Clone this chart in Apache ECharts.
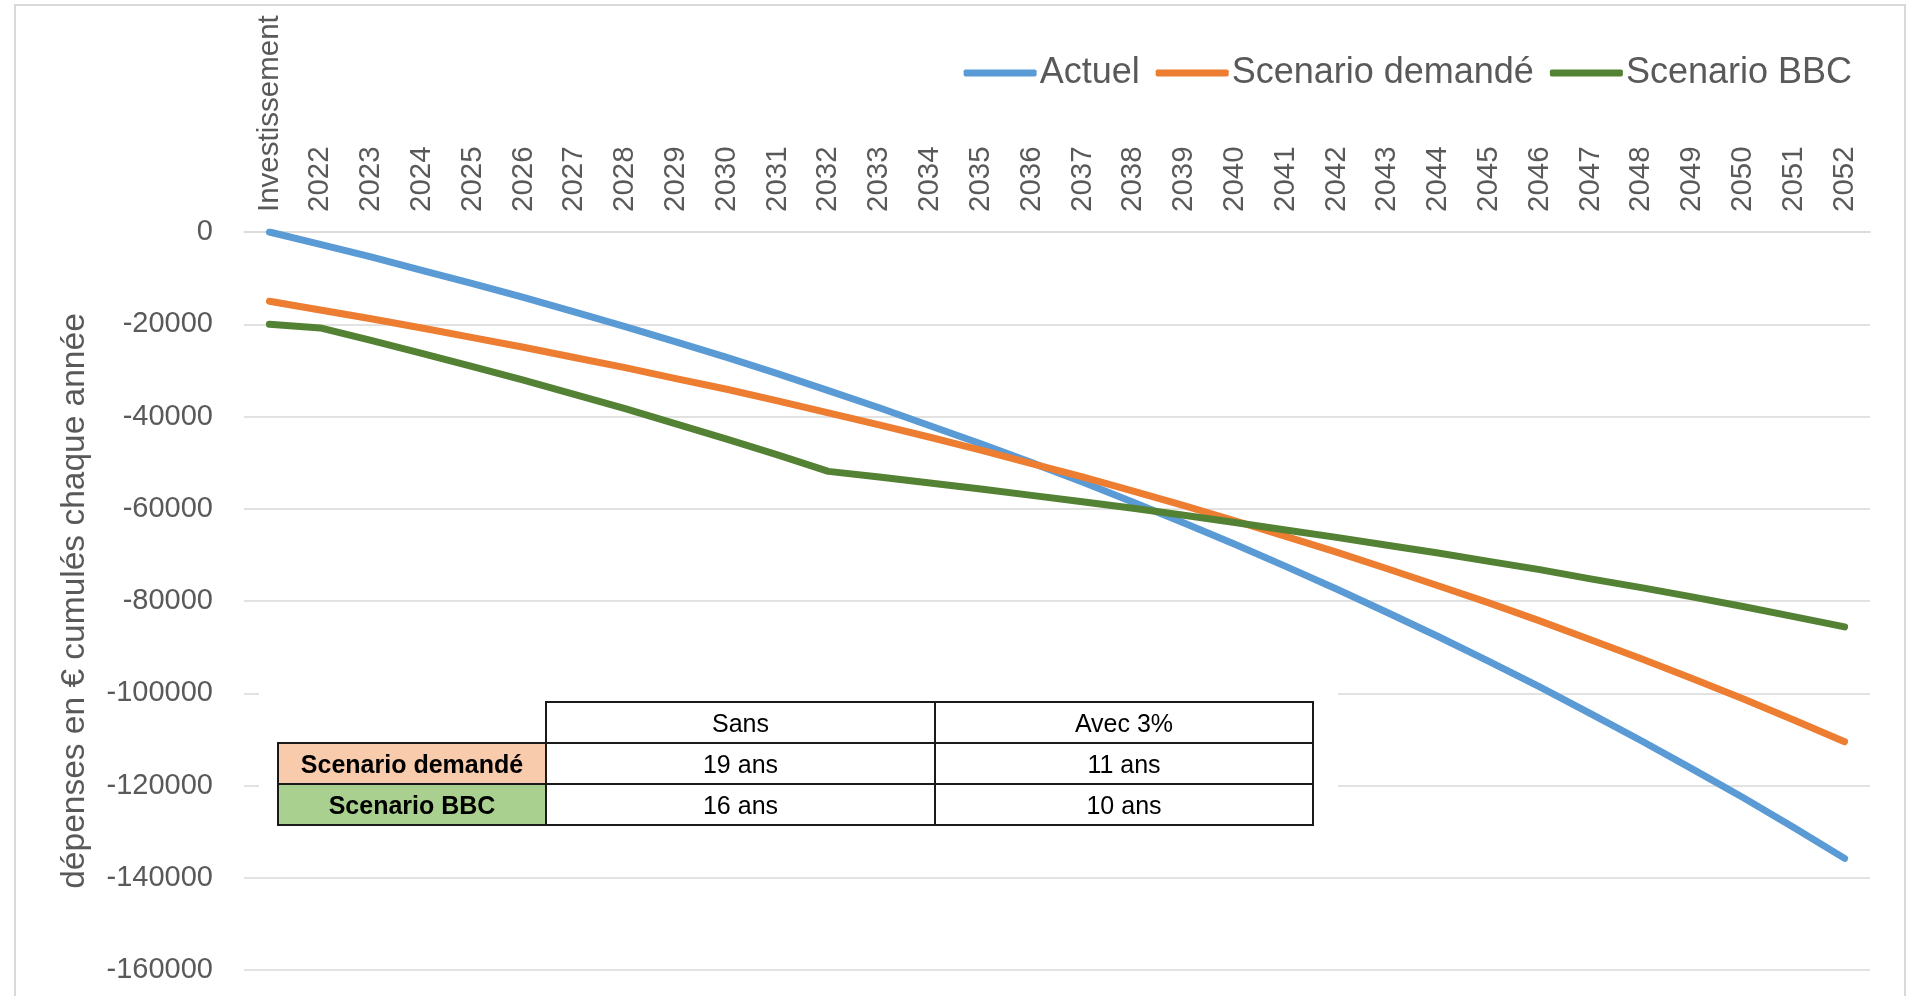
<!DOCTYPE html>
<html>
<head>
<meta charset="utf-8">
<script src="https://cdn.jsdelivr.net/npm/echarts@6/dist/echarts.min.js"></script>
<style>
html,body{margin:0;padding:0;background:#fff;}
#chart{width:1910px;height:996px;}
</style>
</head>
<body>
<div id="chart"></div>
<script>
// ---- Data ----
const categories = ['Investissement','2022','2023','2024','2025','2026','2027','2028','2029','2030','2031','2032','2033','2034','2035','2036','2037','2038','2039','2040','2041','2042','2043','2044','2045','2046','2047','2048','2049','2050','2051','2052'];
const seriesNames = ['Actuel', 'Scenario demandé', 'Scenario BBC'];
const actuel = [0,-2700,-5400,-8300,-11200,-14200,-17300,-20500,-23800,-27200,-30700,-34400,-38100,-42000,-45900,-50000,-54200,-58600,-63100,-67700,-72500,-77400,-82500,-87700,-93100,-98600,-104400,-110300,-116400,-122600,-129100,-135800];
const demande = [-15000,-16900,-18800,-20800,-22900,-25000,-27200,-29400,-31800,-34100,-36600,-39200,-41800,-44500,-47300,-50200,-53100,-56200,-59300,-62600,-66000,-69400,-73000,-76700,-80400,-84300,-88400,-92500,-96800,-101200,-105800,-110500];
const bbc = [-20000,-20800,-23500,-26300,-29200,-32100,-35200,-38300,-41600,-44900,-48300,-51900,-53100,-54400,-55700,-57100,-58500,-59900,-61400,-63000,-64600,-66200,-67900,-69600,-71400,-73200,-75200,-77100,-79100,-81200,-83400,-85600];
const yAxisTitle = 'dépenses en € cumulés chaque année';
const tableCols = ['Sans', 'Avec 3%'];
const tableRows = ['Scenario demandé', 'Scenario BBC'];
const tableValues = [['19 ans', '11 ans'], ['16 ans', '10 ans']];

// ---- Styles / layout ----
const colors = ['#5b9bd5', '#ed7d31', '#548235'];
const rowFills = ['#f8cbad', '#a9d08e'];
const FONT = "'Liberation Sans', Arial, sans-serif";
const colX = [278, 546, 935, 1313];
const rowY = [702, 743, 784, 825];

const graphics = [];
graphics.push({type:'rect', z:0, shape:{x:15, y:5, width:1890, height:1000}, style:{fill:'none', stroke:'#d9d9d9', lineWidth:2}});
graphics.push({type:'rect', z:50, shape:{x:259, y:685, width:1079, height:160}, style:{fill:'#ffffff'}});
function cell(x0, x1, y0, y1, fill, text, bold) {
  graphics.push({type:'rect', z:51, shape:{x:x0, y:y0, width:x1-x0, height:y1-y0}, style:{fill:fill, stroke:'#1a1a1a', lineWidth:2}});
  graphics.push({type:'text', z:52, x:(x0+x1)/2, y:(y0+y1)/2 + 3, style:{text:text, fill:'#000', font:(bold?'bold ':'') + '25px ' + FONT, align:'center', verticalAlign:'middle'}});
}
tableCols.forEach((c, j) => cell(colX[j+1], colX[j+2], rowY[0], rowY[1], '#ffffff', c, false));
tableRows.forEach((r, i) => {
  cell(colX[0], colX[1], rowY[i+1], rowY[i+2], rowFills[i], r, true);
  tableValues[i].forEach((v, j) => cell(colX[j+1], colX[j+2], rowY[i+1], rowY[i+2], '#ffffff', v, false));
});

const chart = echarts.init(document.getElementById('chart'));
const dataSets = [actuel, demande, bbc];
chart.setOption({
  animation: false,
  textStyle: {fontFamily: FONT},
  color: colors,
  grid: {left: 244, right: 40, top: 232, bottom: 26, containLabel: false},
  legend: {
    right: 53, top: 50,
    itemWidth: 73, itemHeight: 7, itemGap: 16,
    icon: 'roundRect',
    textStyle: {fontSize: 36, color: '#595959', lineHeight: 36, padding: [0,0,0,-2]},
    data: seriesNames
  },
  xAxis: {
    type: 'category',
    position: 'top',
    data: categories,
    boundaryGap: true,
    axisLine: {show: true, lineStyle: {color: '#d9d9d9', width: 1.5}},
    axisTick: {show: false},
    axisLabel: {rotate: 90, interval: 0, margin: 20, fontSize: 29.5, color: '#595959'},
    splitLine: {show: false}
  },
  yAxis: {
    type: 'value',
    min: -160000, max: 0, interval: 20000,
    name: yAxisTitle,
    nameLocation: 'middle',
    nameRotate: 90,
    nameGap: 152,
    nameTextStyle: {fontSize: 33.5, color: '#595959'},
    axisLine: {show: false},
    axisTick: {show: false},
    axisLabel: {fontSize: 29, color: '#595959', margin: 31, formatter: v => String(v)},
    splitLine: {lineStyle: {color: '#d9d9d9', width: 1.5}}
  },
  series: seriesNames.map((n, k) => ({
    name: n,
    type: 'line',
    data: dataSets[k],
    symbol: 'none',
    smooth: false,
    lineStyle: {width: 7, cap: 'round', join: 'round', color: colors[k]},
    itemStyle: {color: colors[k]}
  })),
  graphic: graphics
});
</script>
</body>
</html>
